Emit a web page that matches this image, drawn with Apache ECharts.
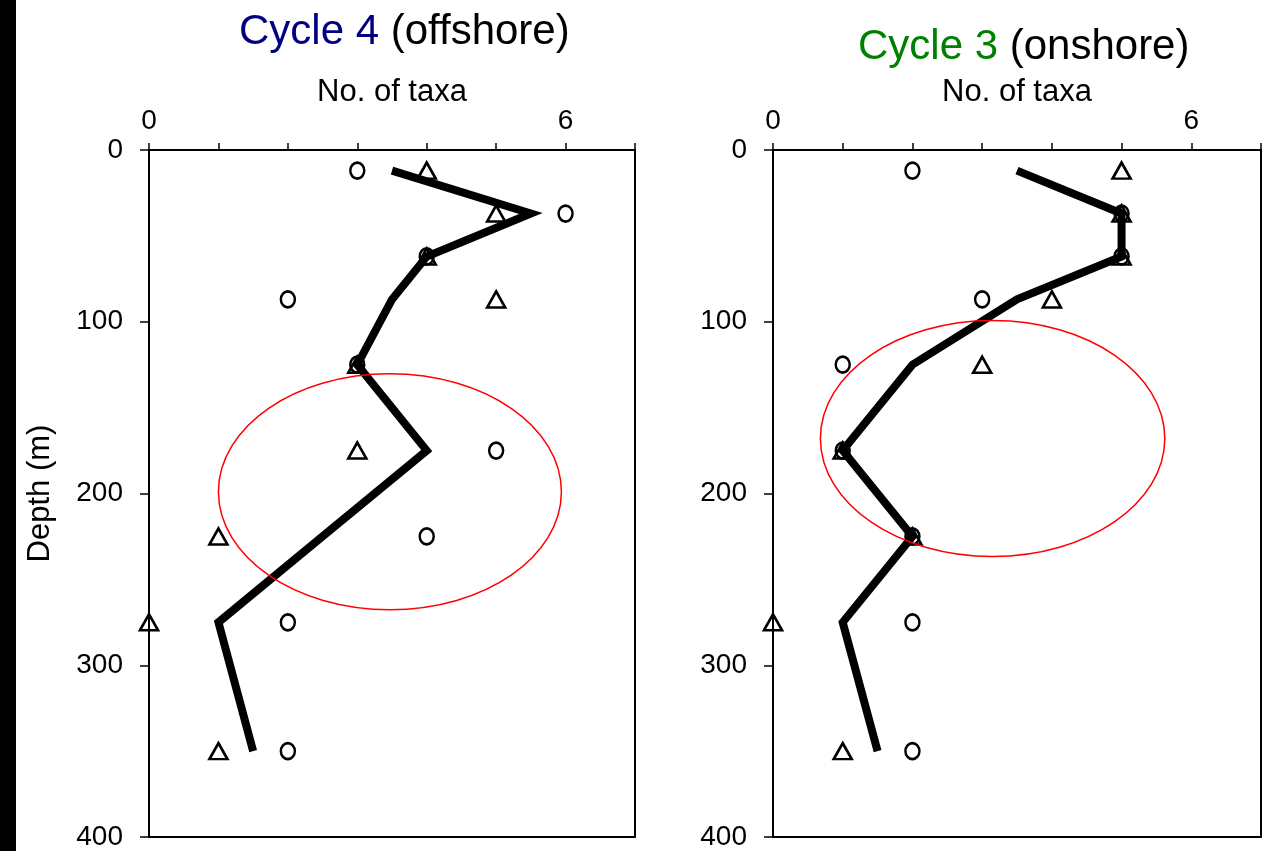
<!DOCTYPE html>
<html><head><meta charset="utf-8">
<script src="https://cdn.jsdelivr.net/npm/echarts@6/dist/echarts.min.js"></script>
<style>html,body{margin:0;padding:0;background:#fff}#c{width:1279px;height:851px}</style>
</head><body><div id="c"></div>
<script>
// ---- data ----
const depths = [12, 37, 62, 87, 125, 175, 225, 275, 350];
const cycle4Circles   = [3, 6, 4, 2, 3, 5, 4, 2, 2];
const cycle4Triangles = [4, 5, 4, 5, 3, 3, 1, 0, 1];
const cycle4Mean      = [3.5, 5.5, 4, 3.5, 3, 4, 2.5, 1, 1.5];
const cycle3Circles   = [2, 5, 5, 3, 1, 1, 2, 2, 2];
const cycle3Triangles = [5, 5, 5, 4, 3, 1, 2, 0, 1];
const cycle3Mean      = [3.5, 5, 5, 3.5, 2, 1, 2, 1, 1.5];
const xLabelValues = [0, 6];
const yTickLabels = [0, 100, 200, 300, 400];
// highlighted zones (data units: centre taxa, centre depth, half-width taxa, half-height m)
const zone4 = [3.47, 199, 2.47, 68.7];
const zone3 = [3.15, 168, 2.47, 68.7];

const FONT = "'Liberation Sans', Arial, Helvetica, sans-serif";
const chart = echarts.init(document.getElementById('c'), null, {renderer: 'canvas'});

function xAxis(gi) {
  return {
    type: 'value', gridIndex: gi, position: 'top', min: 0, max: 7, interval: 1,
    name: 'No. of taxa', nameLocation: 'middle', nameGap: 42, nameMoveOverlap: false,
    nameTextStyle: {fontSize: 31, color: '#000', fontFamily: FONT},
    axisLine: {show: true, onZero: false, lineStyle: {color: '#000', width: 2}},
    axisTick: {show: true, inside: false, length: 7, lineStyle: {color: '#000', width: 1.5}},
    axisLabel: {show: true, margin: 15, fontSize: 28, color: '#000', fontFamily: FONT,
      formatter: v => xLabelValues.includes(v) ? String(v) : ''},
    splitLine: {show: false}
  };
}
function yAxis(gi, named) {
  return {
    type: 'value', gridIndex: gi, inverse: true, min: 0, max: 400, interval: 100,
    name: named ? 'Depth (m)' : '', nameLocation: 'middle', nameGap: 93, nameRotate: 90, nameMoveOverlap: false,
    nameTextStyle: {fontSize: 31, color: '#000', fontFamily: FONT},
    axisLine: {show: true, onZero: false, lineStyle: {color: '#000', width: 2}},
    axisTick: {show: true, inside: false, length: 9, lineStyle: {color: '#000', width: 1.5}},
    axisLabel: {show: true, margin: 26, fontSize: 28, color: '#000', fontFamily: FONT,
      formatter: v => yTickLabels.includes(v) ? String(v) : ''},
    splitLine: {show: false}
  };
}
function pts(xs) { return depths.map((d, i) => [xs[i], d]); }
const hollow = {color: 'rgba(255,255,255,0)', borderColor: '#000', borderWidth: 2.6, opacity: 1};
function panelSeries(gi, circles, tris, mean) {
  return [
    {type: 'line', xAxisIndex: gi, yAxisIndex: gi, data: pts(mean), symbol: 'none', showSymbol: false,
     lineStyle: {color: '#000', width: 8, join: 'miter', cap: 'butt', opacity: 1}, z: 2, silent: true, clip: false},
    {type: 'scatter', xAxisIndex: gi, yAxisIndex: gi, data: pts(circles), symbol: 'circle', symbolSize: [14, 16],
     itemStyle: hollow, z: 3, silent: true, clip: false},
    {type: 'scatter', xAxisIndex: gi, yAxisIndex: gi, data: pts(tris), symbol: 'triangle', symbolSize: [18, 16],
     itemStyle: hollow, z: 3, silent: true, clip: false}
  ];
}

chart.setOption({
  animation: false,
  backgroundColor: '#fff',
  title: [
    {text: '{a|Cycle 4}{b| (offshore)}', left: 239, top: 11, padding: 0,
     textStyle: {fontSize: 42, fontWeight: 'normal', fontFamily: FONT, rich: {
       a: {color: '#000080', fontSize: 42, fontWeight: 'normal', fontFamily: FONT},
       b: {color: '#000', fontSize: 42, fontWeight: 'normal', fontFamily: FONT}}}},
    {text: '{a|Cycle 3}{b| (onshore)}', left: 858, top: 26, padding: 0,
     textStyle: {fontSize: 42, fontWeight: 'normal', fontFamily: FONT, rich: {
       a: {color: '#008000', fontSize: 42, fontWeight: 'normal', fontFamily: FONT},
       b: {color: '#000', fontSize: 42, fontWeight: 'normal', fontFamily: FONT}}}}
  ],
  grid: [
    {left: 149, top: 150, width: 486, height: 687, show: true, borderColor: '#000', borderWidth: 2, backgroundColor: 'transparent', outerBoundsMode: 'none', containLabel: false},
    {left: 773, top: 150, width: 488, height: 687, show: true, borderColor: '#000', borderWidth: 2, backgroundColor: 'transparent', outerBoundsMode: 'none', containLabel: false}
  ],
  xAxis: [xAxis(0), xAxis(1)],
  yAxis: [yAxis(0, true), yAxis(1, false)],
  series: [].concat(
    panelSeries(0, cycle4Circles, cycle4Triangles, cycle4Mean),
    panelSeries(1, cycle3Circles, cycle3Triangles, cycle3Mean)
  )
});

function ellipseFor(gi, z) {
  const c = chart.convertToPixel({gridIndex: gi}, [z[0], z[1]]);
  const e = chart.convertToPixel({gridIndex: gi}, [z[0] + z[2], z[1] + z[3]]);
  return {type: 'ellipse', silent: true, z: 10,
    shape: {cx: c[0], cy: c[1], rx: Math.abs(e[0] - c[0]), ry: Math.abs(e[1] - c[1])},
    style: {fill: 'none', stroke: '#ff0000', lineWidth: 1.5}};
}
chart.setOption({
  graphic: [
    {type: 'rect', left: 0, top: 0, shape: {x: 0, y: 0, width: 16, height: 851}, style: {fill: '#000'}, silent: true},
    ellipseFor(0, zone4),
    ellipseFor(1, zone3)
  ]
});
</script></body></html>
